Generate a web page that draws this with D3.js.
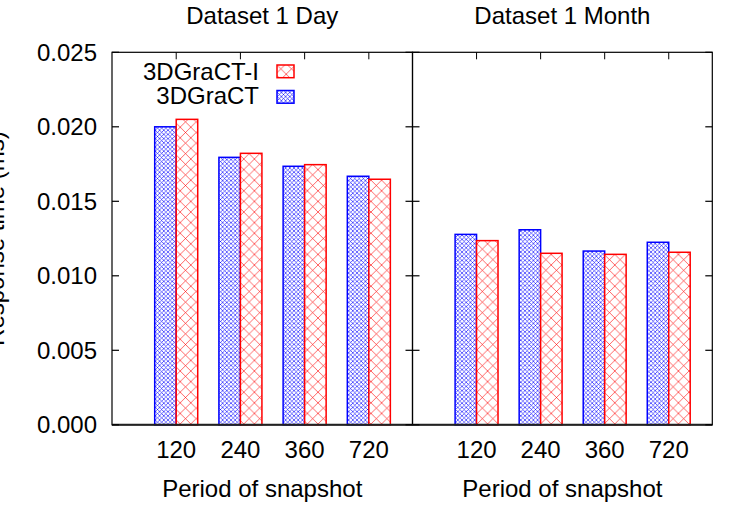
<!DOCTYPE html>
<html>
<head>
<meta charset="utf-8">
<script src="https://cdn.jsdelivr.net/npm/d3@7"></script>
<style>
  html, body { margin: 0; padding: 0; background: #fff; }
  svg text { font-family: "Liberation Sans", Arial, Helvetica, sans-serif; fill: #000; }
</style>
</head>
<body>
<svg id="chart" width="750" height="525"></svg>
<script>
// ──────────────────────────────────────────────────────────────
// data
// ──────────────────────────────────────────────────────────────
const periods = ["120", "240", "360", "720"];
const seriesNames = ["3DGraCT", "3DGraCT-I"];

// Dataset 1 Day
const dayBase = [0.0200, 0.01795, 0.01735, 0.01668];
const dayIncr = [0.0205, 0.01822, 0.01746, 0.01648];

// Dataset 1 Month
const monthBase = [0.01278, 0.01309, 0.01166, 0.01225];
const monthIncr = [0.01236, 0.01151, 0.01144, 0.01158];

const yTicks = [0, 0.005, 0.010, 0.015, 0.020, 0.025];

const panels = [
  { title: "Dataset 1 Day", base: dayBase, incr: dayIncr, x0: 112, x1: 412.5 },
  { title: "Dataset 1 Month", base: monthBase, incr: monthIncr, x0: 412.5, x1: 712.3 }
];

const svg = d3.select("#chart");
const plotTop = 52.3, plotBottom = 424.8;
const barW = 0.335;   // in category units
const tickLen = 7;

const y = d3.scaleLinear().domain([0, 0.025]).range([plotBottom, plotTop]);

// hatch patterns (gnuplot-ish crosshatch)
const defs = svg.append("defs");
function hatch(id, size, color, width, opacity) {
  const p = defs.append("pattern")
    .attr("id", id)
    .attr("patternUnits", "userSpaceOnUse")
    .attr("width", size)
    .attr("height", size);
  p.append("rect").attr("width", size).attr("height", size).attr("fill", "#fff");
  p.append("path")
    .attr("d", `M0,0L${size},${size}M${size},0L0,${size}` +
               `M${-size / 2},${size / 2}L${size / 2},${-size / 2}` +
               `M${size / 2},${size * 1.5}L${size * 1.5},${size / 2}` +
               `M${-size / 2},${size / 2}L${size / 2},${size * 1.5}` +
               `M${size / 2},${-size / 2}L${size * 1.5},${size / 2}`)
    .attr("stroke", color)
    .attr("stroke-width", width)
    .attr("stroke-opacity", opacity)
    .attr("fill", "none");
}
hatch("hatchBlue", 4.2, "#0000ff", 0.7, 0.85);
hatch("hatchRed", 10.6, "#ff0000", 0.8, 0.75);

const seriesStyle = {
  "3DGraCT":   { fill: "url(#hatchBlue)", stroke: "#0000ff" },
  "3DGraCT-I": { fill: "url(#hatchRed)",  stroke: "#ff0000" }
};

panels.forEach((pn, pi) => {
  const x = d3.scaleLinear().domain([-1, 3.68]).range([pn.x0, pn.x1]);
  const g = svg.append("g");

  // bars
  const rows = periods.map((p, i) => [
    { s: "3DGraCT", i, v: pn.base[i], off: -barW },
    { s: "3DGraCT-I", i, v: pn.incr[i], off: 0 }
  ]).flat();

  g.selectAll("rect.bar")
    .data(rows)
    .join("rect")
      .attr("class", "bar")
      .attr("x", d => x(d.i + d.off))
      .attr("y", d => y(d.v))
      .attr("width", d => x(d.i + d.off + barW) - x(d.i + d.off))
      .attr("height", d => y(0) - y(d.v))
      .attr("fill", d => seriesStyle[d.s].fill)
      .attr("stroke", d => seriesStyle[d.s].stroke)
      .attr("stroke-width", 1.5);

  // border
  g.append("rect")
    .attr("x", pn.x0).attr("y", plotTop)
    .attr("width", pn.x1 - pn.x0).attr("height", plotBottom - plotTop)
    .attr("fill", "none").attr("stroke", "#000").attr("stroke-width", 1.2);
  g.append("line")
    .attr("x1", pn.x0).attr("x2", pn.x1)
    .attr("y1", plotBottom).attr("y2", plotBottom)
    .attr("stroke", "#222").attr("stroke-width", 2);

  // y ticks, both sides inward
  g.selectAll("line.yl").data(yTicks).join("line")
    .attr("class", "yl")
    .attr("x1", pn.x0).attr("x2", pn.x0 + tickLen)
    .attr("y1", d => y(d)).attr("y2", d => y(d))
    .attr("stroke", "#000").attr("stroke-width", 1.2);
  g.selectAll("line.yr").data(yTicks).join("line")
    .attr("class", "yr")
    .attr("x1", pn.x1).attr("x2", pn.x1 - tickLen)
    .attr("y1", d => y(d)).attr("y2", d => y(d))
    .attr("stroke", "#000").attr("stroke-width", 1.2);

  // top mirrored x ticks
  g.selectAll("line.xt").data(periods).join("line")
    .attr("class", "xt")
    .attr("x1", (d, i) => x(i)).attr("x2", (d, i) => x(i))
    .attr("y1", plotTop).attr("y2", plotTop + tickLen)
    .attr("stroke", "#000").attr("stroke-width", 1);

  // x tick labels
  g.selectAll("text.xl").data(periods).join("text")
    .attr("class", "xl")
    .attr("x", (d, i) => x(i))
    .attr("y", 458.3)
    .attr("text-anchor", "middle")
    .style("font-size", "24px")
    .text(d => d);

  // x axis title + panel title
  const cx = (pn.x0 + pn.x1) / 2;
  g.append("text")
    .attr("x", cx).attr("y", 496.7)
    .attr("text-anchor", "middle")
    .style("font-size", "24px")
    .text("Period of snapshot");
  g.append("text")
    .attr("x", cx).attr("y", 23.5)
    .attr("text-anchor", "middle")
    .style("font-size", "24px")
    .text(pn.title);

  // y labels only on the first panel
  if (pi === 0) {
    g.selectAll("text.yv").data(yTicks).join("text")
      .attr("class", "yv")
      .attr("x", 97)
      .attr("y", d => y(d))
      .attr("dy", "0.35em")
      .attr("text-anchor", "end")
      .style("font-size", "24px")
      .text(d => d3.format(".3f")(d));
  }
});

// y axis title, mostly cut off at the left edge
svg.append("text")
  .attr("transform", `translate(4,${(plotTop + plotBottom) / 2}) rotate(-90)`)
  .attr("text-anchor", "middle")
  .style("font-size", "24px")
  .text("Response time (ms)");

// legend (gnuplot order: I first)
const legend = svg.append("g");
const legendRows = [seriesNames[1], seriesNames[0]];
legendRows.forEach((s, i) => {
  legend.append("text")
    .attr("x", 259)
    .attr("y", 80 + i * 24)
    .attr("text-anchor", "end")
    .style("font-size", "24px")
    .text(s);
  legend.append("rect")
    .attr("x", 277).attr("y", 65 + i * 25.5)
    .attr("width", 17).attr("height", 12.7)
    .attr("fill", seriesStyle[s].fill)
    .attr("stroke", seriesStyle[s].stroke)
    .attr("stroke-width", 1.5);
});
</script>
</body>
</html>
